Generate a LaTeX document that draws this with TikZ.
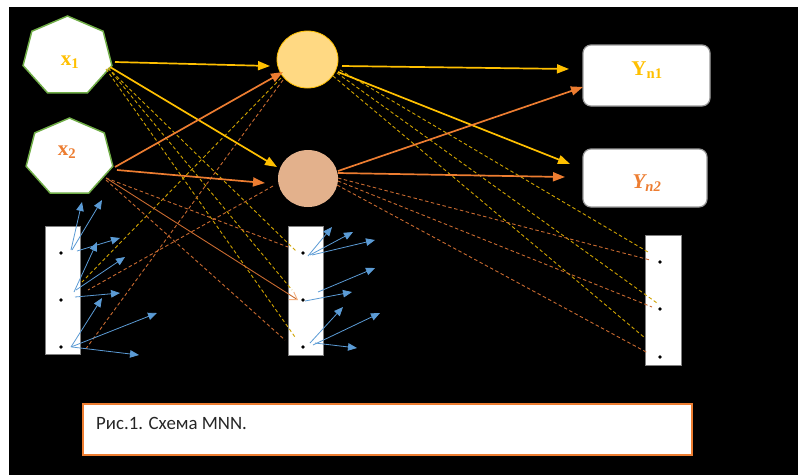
\documentclass[tikz,border=0pt]{standalone}
\usepackage{fontspec}
\newfontfamily\capfont{Carlito}
\newfontfamily\lblfont{Liberation Serif}
\usetikzlibrary{arrows.meta,shapes.geometric}
\definecolor{gold}{HTML}{FFC000}
\definecolor{orng}{HTML}{ED7D31}
\definecolor{dgold}{HTML}{CFA300}
\definecolor{dorng}{HTML}{C86A30}
\definecolor{blu}{HTML}{5B9BD5}
\definecolor{grn}{HTML}{70AD47}
\definecolor{ltorng}{HTML}{F4B183}
\definecolor{hyel}{HTML}{FFD983}
\definecolor{hbrn}{HTML}{E3B18C}
\begin{document}
\begin{tikzpicture}[x=1pt,y=-1pt,
  solidy/.style={draw=gold,line width=1.7pt,-{Triangle[length=12pt,width=9pt]}},
  solido/.style={draw=orng,line width=1.7pt,-{Triangle[length=12pt,width=9pt]}},
  dashy/.style={draw=dgold,line width=0.9pt,dash pattern=on 3.5pt off 2.5pt},
  dasho/.style={draw=dorng,line width=0.9pt,dash pattern=on 3.5pt off 2.5pt},
  bluearr/.style={draw=blu,line width=0.8pt,-{Triangle[length=9pt,width=7.5pt]}},
  bar/.style={rectangle,draw=gray,fill=white,line width=0.7pt,inner sep=0},
  dotn/.style={circle,fill=black,inner sep=0,minimum size=3.8pt},
  outbox/.style={rectangle,rounded corners=8pt,draw=gray!80,fill=white,line width=1.2pt,inner sep=0},
  hepta/.style={draw=grn,fill=white,line width=1.5pt,line join=miter},
  lbl/.style={font=\lblfont\bfseries\fontsize{21}{25}\selectfont,inner sep=0}
]
\useasboundingbox (0,0) rectangle (798,475);
\fill[white] (0,0) rectangle (798,475);
\fill[black] (9,7) rectangle (798,475);

% memory bars
\node[bar,minimum width=35pt,minimum height=128pt] (lb) at (62.5,290) {};
\node[bar,minimum width=35pt,minimum height=129pt] (mb) at (305.5,290.5) {};
\node[bar,minimum width=36pt,minimum height=130pt] (rb) at (663,300) {};
\node[dotn] (l1) at (61,253) {};
\node[dotn] (l2) at (61,300) {};
\node[dotn] (l3) at (61,347) {};
\node[dotn] (m1) at (303,253) {};
\node[dotn] (m2) at (303,300) {};
\node[dotn] (m3) at (303,347) {};
\node[dotn] (r1) at (660,262) {};
\node[dotn] (r2) at (660,309) {};
\node[dotn] (r3) at (660,357) {};

% heptagons
\draw[hepta] ({67.5+45.6*cos(90)},{56.5-40.5*sin(90)})
  \foreach \a in {38.571,-12.857,-64.286,-115.714,-167.143,141.429} { -- ({67.5+45.6*cos(\a)},{56.5-40.5*sin(\a)}) } -- cycle;
\draw[hepta] ({69.5+44.5*cos(90)},{157.5-39.5*sin(90)})
  \foreach \a in {38.571,-12.857,-64.286,-115.714,-167.143,141.429} { -- ({69.5+44.5*cos(\a)},{157.5-39.5*sin(\a)}) } -- cycle;
\node[lbl,text=gold] (x1) at (70,62) {x\textsubscript{1}};
\node[lbl,text=orng] (x2) at (67,152) {x\textsubscript{2}};

% hidden-layer neurons
\node[ellipse,minimum width=61pt,minimum height=57pt,fill=hyel,draw=gold,line width=0.8pt,inner sep=0] (h1) at (307.5,59.5) {};
\node[ellipse,minimum width=60pt,minimum height=57pt,fill=hbrn,inner sep=0] (h2) at (308,178.5) {};

% output boxes
\node[outbox,minimum width=127pt,minimum height=61pt] (y1) at (646.5,75.5) {};
\node[outbox,minimum width=124pt,minimum height=58pt] (y2) at (645,178) {};
\node[lbl,text=gold] (y1t) at (647,70) {Y\textsubscript{n1}};
\node[lbl,text=orng] (y2t) at (647,183) {\itshape Y\textsubscript{n2}};

% connector start points
\coordinate (x1s1) at (115,62);
\coordinate (x1s2) at (110,67);
\coordinate (x1s3) at (108,68);
\coordinate (x1s4) at (106,69);
\coordinate (x2s1) at (115,167);
\coordinate (x2s2) at (117,170);
\coordinate (x2s3) at (106,178);
\coordinate (x2s4) at (106,180);
\coordinate (h1s1) at (342,66);
\coordinate (h1s2) at (338,72);
\coordinate (h1s3) at (340,70);
\coordinate (h1s4) at (337,73);
\coordinate (h1s5) at (333,76);
\coordinate (h1s6) at (281,78);
\coordinate (h1s7) at (283,80);
\coordinate (h2s1) at (338,171);
\coordinate (h2s2) at (338,173);
\coordinate (h2s3) at (338,178);
\coordinate (h2s4) at (338,181);
\coordinate (h2s5) at (337,185);
\coordinate (h2s6) at (273,186);
% free ends of the arrows
\coordinate (t1) at (270,66);
\coordinate (t2) at (277,167);
\coordinate (t3) at (569,69);
\coordinate (t4) at (570,164);
\coordinate (t5) at (283,72);
\coordinate (t6) at (265,183);
\coordinate (t7) at (583,87);
\coordinate (t8) at (565,177);

% dashed yellow
\draw[dashy] (x1s3) -- ([shift={(-6,-1)}]m1.center);
\draw[dashy] (x1s3) -- ([shift={(-11,-10)}]m2.center);
\draw[dashy] (x1s4) -- ([shift={(-8,-10)}]m3.center);
\draw[dashy] (h1s3) -- ([shift={(-12,-10)}]r1.center);
\draw[dashy] (h1s4) -- ([shift={(-3,-6)}]r2.center);
\draw[dashy] (h1s5) -- ([shift={(-15,-19)}]r3.center);
\draw[dashy] (h1s6) -- ([shift={(21,-18)}]l2.center);
% dashed orange
\draw[dasho] (x2s3) -- ([shift={(-15,-6)}]m1.center);
\draw[dasho] (x2s4) -- ([shift={(-18,-7)}]m3.center);
\draw[dasho] (h2s3) -- ([shift={(-10,-2)}]r1.center);
\draw[dasho] (h2s4) -- ([shift={(-8,-2)}]r2.center);
\draw[dasho] (h2s5) -- ([shift={(-12,-4)}]r3.center);
\draw[dasho] (h1s7) -- ([shift={(24,3)}]l3.center);
\draw[dasho] (h2s6) -- ([shift={(27,-10)}]l2.center);
% thin orange arrow
\draw[draw=dorng,line width=0.9pt,-{Straight Barb[length=7pt,width=9pt,color=ltorng]}] (x2s3) -- ([shift={(-5,0)}]m2.center);

% solid arrows
\draw[solidy] (x1s1) -- (t1);
\draw[solidy] (x1s2) -- (t2);
\draw[solidy] (h1s1) -- (t3);
\draw[solidy] (h1s2) -- (t4);
\draw[solido] (x2s1) -- (t5);
\draw[solido] (x2s2) -- (t6);
\draw[solido] (h2s1) -- (t7);
\draw[solido] (h2s2) -- (t8);

% blue arrows from memory cells
\draw[bluearr] ([shift={(10,-3)}]l1.center) -- ++(11,-48);
\draw[bluearr] ([shift={(11,-3)}]l1.center) -- ++(30,-50);
\draw[bluearr] ([shift={(16,-2)}]l1.center) -- ++(43,-13);
\draw[bluearr] ([shift={(13,-8)}]l2.center) -- ++(23,-50);
\draw[bluearr] ([shift={(15,-10)}]l2.center) -- ++(49,-33);
\draw[bluearr] ([shift={(14,-3)}]l2.center) -- ++(45,-4);
\draw[bluearr] ([shift={(10,0)}]l3.center) -- ++(31,-49);
\draw[bluearr] ([shift={(10,0)}]l3.center) -- ++(86,-34);
\draw[bluearr] ([shift={(11,0)}]l3.center) -- ++(67,8);
\draw[bluearr] ([shift={(5,3)}]m1.center) -- ++(24,-29);
\draw[bluearr] ([shift={(7,2)}]m1.center) -- ++(43,-23);
\draw[bluearr] ([shift={(9,2)}]m1.center) -- ++(63,-15);
\draw[bluearr] ([shift={(15,-8)}]m2.center) -- ++(57,-24);
\draw[bluearr] ([shift={(2,1)}]m2.center) -- ++(47,-9);
\draw[bluearr] ([shift={(7,-4)}]m3.center) -- ++(33,-36);
\draw[bluearr] ([shift={(10,-2)}]m3.center) -- ++(67,-32);
\draw[bluearr] ([shift={(12,-4)}]m3.center) -- ++(42,5);

% caption
\node[rectangle,draw=orng,fill=white,line width=2pt,minimum width=609pt,minimum height=51pt,inner sep=0] (cb) at (387,429.5) {};
\node[anchor=west,font=\capfont\fontsize{18.8}{22}\selectfont,text=black!85,inner sep=0] (cap) at (96,423) {Рис.1. Схема MNN.};
\end{tikzpicture}
\end{document}
